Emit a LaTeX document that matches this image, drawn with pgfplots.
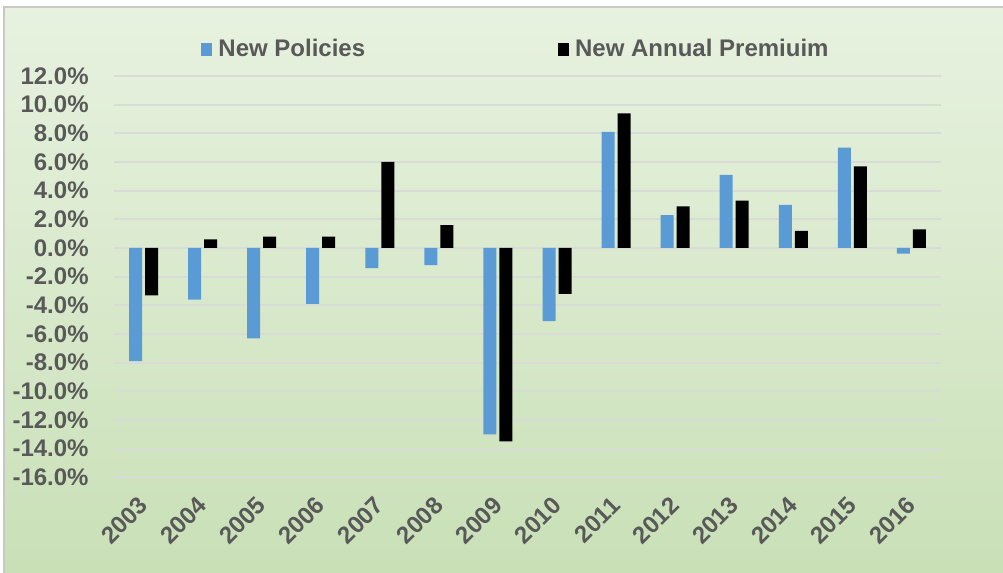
\documentclass[border=0pt]{standalone}
\usepackage{fontspec}
\setmainfont{Liberation Sans}
\usepackage{pgfplots}
\pgfplotsset{compat=1.18}
\definecolor{txt}{HTML}{595959}
\definecolor{barblue}{HTML}{5B9BD5}
\definecolor{gridc}{HTML}{D9DCD6}
\definecolor{bgtop}{HTML}{F5FAF3}
\definecolor{bgmid}{HTML}{DCEBD0}
\definecolor{bgdeep}{HTML}{C2DCAE}
\definecolor{bgbot}{HTML}{CCE4C0}
\pgfdeclareverticalshading{bgshade}{100bp}{color(0bp)=(bgbot); color(15bp)=(bgdeep); color(55bp)=(bgmid); color(100bp)=(bgtop)}
\begin{document}
\begin{tikzpicture}
% picture: 1003x573 px at 0.5pt/px; axis south west at px (114,477.3)
\useasboundingbox (-57pt,-47.85pt) rectangle (444.5pt,238.65pt);
\fill[white] (-57pt,-47.85pt) rectangle (444.5pt,238.65pt);
\shade[shading=bgshade] (-55pt,-47.85pt) rectangle (444.5pt,235.15pt);
\draw[gridc!80!gray, line width=1pt] (-55pt,-47.85pt) -- (-55pt,235.15pt) -- (444.5pt,235.15pt);
\begin{axis}[
  at={(0,0)}, anchor=south west,
  scale only axis, width=413.5pt, height=200.65pt,
  ybar=1.5pt, bar width=6.5pt,
  xmin=-0.5, xmax=13.5, ymin=-16, ymax=12,
  axis line style={draw=none},
  major tick length=0pt,
  ymajorgrids, grid style={gridc, line width=0.9pt},
  xtick={0,...,13},
  xticklabels={2003,2004,2005,2006,2007,2008,2009,2010,2011,2012,2013,2014,2015,2016},
  ytick={-16,-14,...,12},
  yticklabels={-16.0\%,-14.0\%,-12.0\%,-10.0\%,-8.0\%,-6.0\%,-4.0\%,-2.0\%,0.0\%,2.0\%,4.0\%,6.0\%,8.0\%,10.0\%,12.0\%},
  ticklabel style={font=\bfseries\fontsize{12}{14}\selectfont, text=txt},
  yticklabel style={anchor=east, inner sep=0pt, xshift=-12.5pt},
  xticklabel style={rotate=45, anchor=east, inner sep=0pt, xshift=-8.5pt, yshift=-8.5pt},
  legend columns=2,
  legend style={at={(0.5,1)}, anchor=center, xshift=-5.25pt, yshift=13.5pt,
    draw=none, fill=none, font=\bfseries\fontsize{12}{14}\selectfont, text=txt,
    /tikz/every even column/.append style={column sep=94.5pt},
    /tikz/every odd column/.append style={column sep=1pt}},
  legend image code/.code={\fill[#1] (0pt,-3.25pt) rectangle (5.5pt,3.25pt);},
]
\addplot[fill=barblue, draw=none] coordinates {
(0,-7.9) (1,-3.6) (2,-6.3) (3,-3.9) (4,-1.4) (5,-1.2) (6,-13.0)
(7,-5.1) (8,8.1) (9,2.3) (10,5.1) (11,3.0) (12,7.0) (13,-0.4)};
\addplot[fill=black, draw=none] coordinates {
(0,-3.3) (1,0.6) (2,0.8) (3,0.8) (4,6.0) (5,1.6) (6,-13.5)
(7,-3.2) (8,9.4) (9,2.9) (10,3.3) (11,1.2) (12,5.7) (13,1.3)};
\legend{New Policies, New Annual Premiuim}
\end{axis}
\end{tikzpicture}
\end{document}
